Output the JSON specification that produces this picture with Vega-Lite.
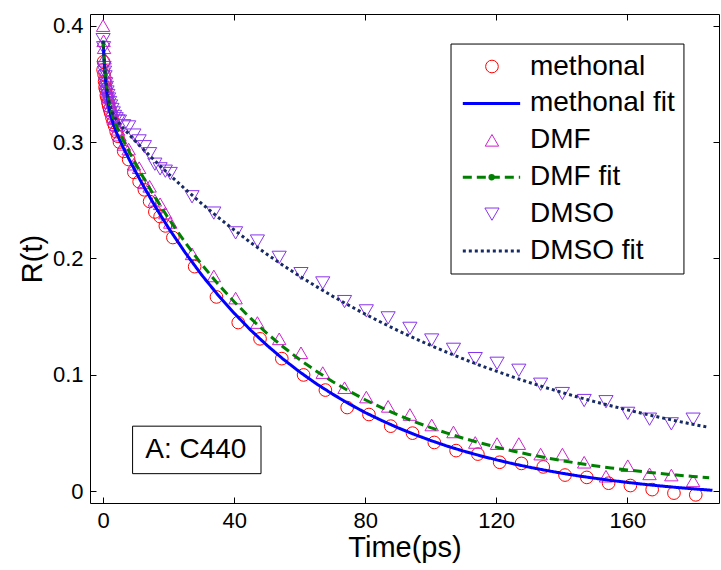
{
 "$schema": "https://vega.github.io/schema/vega-lite/v6.json",
 "width": 629,
 "height": 489,
 "autosize": {"type": "none"},
 "padding": {"left": 90, "top": 14, "right": 2, "bottom": 67},
 "background": "white",
 "config": {
  "view": {"stroke": "black", "strokeWidth": 1},
  "font": "Liberation Sans",
  "axis": {"grid": false, "domain": false, "tickColor": "black", "tickSize": -6, "labelColor": "black", "titleColor": "black", "labelFont": "Liberation Sans", "titleFont": "Liberation Sans", "labelFontSize": 22, "titleFontSize": 29, "titleFontWeight": "normal"}
 },
 "datasets": {
  "obs": [
   {"t":0,"r":0.362,"series":"methonal"},{"t":0.15,"r":0.369,"series":"methonal"},{"t":0.3,"r":0.358,"series":"methonal"},{"t":0.45,"r":0.352,"series":"methonal"},{"t":0.6,"r":0.347,"series":"methonal"},{"t":0.8,"r":0.345,"series":"methonal"},{"t":1.0,"r":0.340,"series":"methonal"},{"t":1.2,"r":0.338,"series":"methonal"},{"t":1.45,"r":0.334,"series":"methonal"},{"t":1.7,"r":0.331,"series":"methonal"},{"t":2.0,"r":0.328,"series":"methonal"},{"t":2.3,"r":0.325,"series":"methonal"},{"t":2.7,"r":0.321,"series":"methonal"},{"t":3.1,"r":0.317,"series":"methonal"},{"t":3.5,"r":0.314,"series":"methonal"},{"t":4.0,"r":0.309,"series":"methonal"},{"t":4.5,"r":0.305,"series":"methonal"},
   {"t":5.0,"r":0.300,"series":"methonal"},{"t":6.3,"r":0.292,"series":"methonal"},{"t":7.8,"r":0.285,"series":"methonal"},{"t":9.4,"r":0.274,"series":"methonal"},{"t":11.0,"r":0.266,"series":"methonal"},{"t":12.6,"r":0.259,"series":"methonal"},{"t":14.2,"r":0.249,"series":"methonal"},{"t":15.8,"r":0.240,"series":"methonal"},{"t":17.4,"r":0.236,"series":"methonal"},{"t":19.0,"r":0.228,"series":"methonal"},
   {"t":21.3,"r":0.218,"series":"methonal"},{"t":27.95,"r":0.193,"series":"methonal"},{"t":34.6,"r":0.167,"series":"methonal"},{"t":41.25,"r":0.145,"series":"methonal"},{"t":47.9,"r":0.131,"series":"methonal"},{"t":54.55,"r":0.114,"series":"methonal"},{"t":61.2,"r":0.100,"series":"methonal"},{"t":67.85,"r":0.087,"series":"methonal"},{"t":74.5,"r":0.072,"series":"methonal"},{"t":81.15,"r":0.066,"series":"methonal"},{"t":87.8,"r":0.056,"series":"methonal"},{"t":94.45,"r":0.050,"series":"methonal"},{"t":101.1,"r":0.042,"series":"methonal"},{"t":107.75,"r":0.035,"series":"methonal"},{"t":114.4,"r":0.032,"series":"methonal"},{"t":121.05,"r":0.025,"series":"methonal"},{"t":127.7,"r":0.024,"series":"methonal"},{"t":134.35,"r":0.021,"series":"methonal"},{"t":141.0,"r":0.014,"series":"methonal"},{"t":147.65,"r":0.012,"series":"methonal"},{"t":154.3,"r":0.007,"series":"methonal"},{"t":160.95,"r":0.005,"series":"methonal"},{"t":167.6,"r":0.0015,"series":"methonal"},{"t":174.25,"r":-0.0015,"series":"methonal"},{"t":180.9,"r":-0.003,"series":"methonal"},
   {"t":0,"r":0.400,"series":"DMF"},{"t":0.15,"r":0.387,"series":"DMF"},{"t":0.3,"r":0.381,"series":"DMF"},{"t":0.45,"r":0.372,"series":"DMF"},{"t":0.6,"r":0.360,"series":"DMF"},{"t":0.8,"r":0.355,"series":"DMF"},{"t":1.0,"r":0.350,"series":"DMF"},{"t":1.2,"r":0.346,"series":"DMF"},{"t":1.45,"r":0.343,"series":"DMF"},{"t":1.7,"r":0.339,"series":"DMF"},{"t":2.0,"r":0.334,"series":"DMF"},{"t":2.3,"r":0.331,"series":"DMF"},{"t":2.7,"r":0.327,"series":"DMF"},{"t":3.1,"r":0.322,"series":"DMF"},{"t":3.5,"r":0.320,"series":"DMF"},{"t":4.0,"r":0.315,"series":"DMF"},{"t":4.5,"r":0.311,"series":"DMF"},
   {"t":5.0,"r":0.306,"series":"DMF"},{"t":6.3,"r":0.298,"series":"DMF"},{"t":7.8,"r":0.294,"series":"DMF"},{"t":9.4,"r":0.281,"series":"DMF"},{"t":11.0,"r":0.278,"series":"DMF"},{"t":12.6,"r":0.265,"series":"DMF"},{"t":14.2,"r":0.262,"series":"DMF"},{"t":15.8,"r":0.250,"series":"DMF"},{"t":17.4,"r":0.247,"series":"DMF"},{"t":19.0,"r":0.239,"series":"DMF"},
   {"t":20.5,"r":0.231,"series":"DMF"},{"t":27.15,"r":0.204,"series":"DMF"},{"t":33.8,"r":0.185,"series":"DMF"},{"t":40.45,"r":0.166,"series":"DMF"},{"t":47.1,"r":0.145,"series":"DMF"},{"t":53.75,"r":0.131,"series":"DMF"},{"t":60.4,"r":0.119,"series":"DMF"},{"t":67.05,"r":0.102,"series":"DMF"},{"t":73.7,"r":0.089,"series":"DMF"},{"t":80.35,"r":0.081,"series":"DMF"},{"t":87.0,"r":0.073,"series":"DMF"},{"t":93.65,"r":0.066,"series":"DMF"},{"t":100.3,"r":0.057,"series":"DMF"},{"t":106.95,"r":0.051,"series":"DMF"},{"t":113.6,"r":0.042,"series":"DMF"},{"t":120.25,"r":0.041,"series":"DMF"},{"t":126.9,"r":0.041,"series":"DMF"},{"t":133.55,"r":0.032,"series":"DMF"},{"t":140.2,"r":0.032,"series":"DMF"},{"t":146.85,"r":0.025,"series":"DMF"},{"t":153.5,"r":0.013,"series":"DMF"},{"t":160.15,"r":0.022,"series":"DMF"},{"t":166.8,"r":0.015,"series":"DMF"},{"t":173.45,"r":0.014,"series":"DMF"},{"t":180.1,"r":0.009,"series":"DMF"},
   {"t":0,"r":0.388,"series":"DMSO"},{"t":0.15,"r":0.381,"series":"DMSO"},{"t":0.3,"r":0.364,"series":"DMSO"},{"t":0.45,"r":0.360,"series":"DMSO"},{"t":0.6,"r":0.356,"series":"DMSO"},{"t":0.8,"r":0.350,"series":"DMSO"},{"t":1.0,"r":0.347,"series":"DMSO"},{"t":1.2,"r":0.343,"series":"DMSO"},{"t":1.45,"r":0.340,"series":"DMSO"},{"t":1.7,"r":0.337,"series":"DMSO"},{"t":2.0,"r":0.334,"series":"DMSO"},{"t":2.3,"r":0.331,"series":"DMSO"},{"t":2.7,"r":0.328,"series":"DMSO"},{"t":3.1,"r":0.325,"series":"DMSO"},{"t":3.5,"r":0.322,"series":"DMSO"},{"t":4.0,"r":0.320,"series":"DMSO"},{"t":4.5,"r":0.318,"series":"DMSO"},
   {"t":5.0,"r":0.318,"series":"DMSO"},{"t":6.3,"r":0.314,"series":"DMSO"},{"t":7.8,"r":0.313,"series":"DMSO"},{"t":9.4,"r":0.306,"series":"DMSO"},{"t":11.0,"r":0.301,"series":"DMSO"},{"t":12.6,"r":0.296,"series":"DMSO"},{"t":14.2,"r":0.290,"series":"DMSO"},{"t":15.8,"r":0.281,"series":"DMSO"},{"t":17.4,"r":0.277,"series":"DMSO"},{"t":19.0,"r":0.275,"series":"DMSO"},
   {"t":20.5,"r":0.273,"series":"DMSO"},{"t":27.15,"r":0.253,"series":"DMSO"},{"t":33.8,"r":0.239,"series":"DMSO"},{"t":40.45,"r":0.222,"series":"DMSO"},{"t":47.1,"r":0.215,"series":"DMSO"},{"t":53.75,"r":0.201,"series":"DMSO"},{"t":60.4,"r":0.187,"series":"DMSO"},{"t":67.05,"r":0.179,"series":"DMSO"},{"t":73.7,"r":0.163,"series":"DMSO"},{"t":80.35,"r":0.155,"series":"DMSO"},{"t":87.0,"r":0.149,"series":"DMSO"},{"t":93.65,"r":0.140,"series":"DMSO"},{"t":100.3,"r":0.130,"series":"DMSO"},{"t":106.95,"r":0.122,"series":"DMSO"},{"t":113.6,"r":0.114,"series":"DMSO"},{"t":120.25,"r":0.110,"series":"DMSO"},{"t":126.9,"r":0.104,"series":"DMSO"},{"t":133.55,"r":0.092,"series":"DMSO"},{"t":140.2,"r":0.084,"series":"DMSO"},{"t":146.85,"r":0.078,"series":"DMSO"},{"t":153.5,"r":0.077,"series":"DMSO"},{"t":160.15,"r":0.067,"series":"DMSO"},{"t":166.8,"r":0.062,"series":"DMSO"},{"t":173.45,"r":0.058,"series":"DMSO"},{"t":180.1,"r":0.062,"series":"DMSO"}
  ],
  "fit": [
   {"t":0,"r":0.387,"series":"methonal fit"},{"t":0.25,"r":0.3732,"series":"methonal fit"},{"t":0.5,"r":0.3622,"series":"methonal fit"},{"t":0.75,"r":0.3533,"series":"methonal fit"},{"t":1,"r":0.3459,"series":"methonal fit"},{"t":1.5,"r":0.3349,"series":"methonal fit"},{"t":2,"r":0.3270,"series":"methonal fit"},{"t":2.5,"r":0.3210,"series":"methonal fit"},{"t":3,"r":0.3162,"series":"methonal fit"},{"t":4,"r":0.3086,"series":"methonal fit"},{"t":5,"r":0.3022,"series":"methonal fit"},{"t":6,"r":0.2961,"series":"methonal fit"},{"t":8,"r":0.2849,"series":"methonal fit"},{"t":10,"r":0.2742,"series":"methonal fit"},{"t":12.5,"r":0.2613,"series":"methonal fit"},{"t":15,"r":0.2491,"series":"methonal fit"},{"t":17.5,"r":0.2373,"series":"methonal fit"},{"t":20,"r":0.2261,"series":"methonal fit"},{"t":25,"r":0.2053,"series":"methonal fit"},{"t":30,"r":0.1862,"series":"methonal fit"},{"t":35,"r":0.1689,"series":"methonal fit"},{"t":40,"r":0.1531,"series":"methonal fit"},{"t":45,"r":0.1386,"series":"methonal fit"},{"t":50,"r":0.1255,"series":"methonal fit"},{"t":55,"r":0.1135,"series":"methonal fit"},{"t":60,"r":0.1026,"series":"methonal fit"},{"t":65,"r":0.0926,"series":"methonal fit"},{"t":70,"r":0.0836,"series":"methonal fit"},{"t":75,"r":0.0753,"series":"methonal fit"},{"t":80,"r":0.0677,"series":"methonal fit"},{"t":85,"r":0.0609,"series":"methonal fit"},{"t":90,"r":0.0546,"series":"methonal fit"},{"t":95,"r":0.0489,"series":"methonal fit"},{"t":100,"r":0.0437,"series":"methonal fit"},{"t":105,"r":0.0389,"series":"methonal fit"},{"t":110,"r":0.0346,"series":"methonal fit"},{"t":115,"r":0.0307,"series":"methonal fit"},{"t":120,"r":0.0271,"series":"methonal fit"},{"t":125,"r":0.0238,"series":"methonal fit"},{"t":130,"r":0.0208,"series":"methonal fit"},{"t":135,"r":0.0181,"series":"methonal fit"},{"t":140,"r":0.0156,"series":"methonal fit"},{"t":145,"r":0.0133,"series":"methonal fit"},{"t":150,"r":0.0113,"series":"methonal fit"},{"t":155,"r":0.0094,"series":"methonal fit"},{"t":160,"r":0.0077,"series":"methonal fit"},{"t":165,"r":0.0061,"series":"methonal fit"},{"t":170,"r":0.0047,"series":"methonal fit"},{"t":175,"r":0.0034,"series":"methonal fit"},{"t":180,"r":0.0022,"series":"methonal fit"},{"t":186,"r":0.0009,"series":"methonal fit"},
   {"t":0,"r":0.387,"series":"DMF fit"},{"t":0.25,"r":0.3744,"series":"DMF fit"},{"t":0.5,"r":0.3643,"series":"DMF fit"},{"t":0.75,"r":0.3560,"series":"DMF fit"},{"t":1,"r":0.3493,"series":"DMF fit"},{"t":1.5,"r":0.3391,"series":"DMF fit"},{"t":2,"r":0.3318,"series":"DMF fit"},{"t":2.5,"r":0.3261,"series":"DMF fit"},{"t":3,"r":0.3216,"series":"DMF fit"},{"t":4,"r":0.3143,"series":"DMF fit"},{"t":5,"r":0.3080,"series":"DMF fit"},{"t":6,"r":0.3023,"series":"DMF fit"},{"t":8,"r":0.2914,"series":"DMF fit"},{"t":10,"r":0.2810,"series":"DMF fit"},{"t":12.5,"r":0.2685,"series":"DMF fit"},{"t":15,"r":0.2566,"series":"DMF fit"},{"t":17.5,"r":0.2452,"series":"DMF fit"},{"t":20,"r":0.2343,"series":"DMF fit"},{"t":25,"r":0.2139,"series":"DMF fit"},{"t":30,"r":0.1953,"series":"DMF fit"},{"t":35,"r":0.1783,"series":"DMF fit"},{"t":40,"r":0.1629,"series":"DMF fit"},{"t":45,"r":0.1487,"series":"DMF fit"},{"t":50,"r":0.1358,"series":"DMF fit"},{"t":55,"r":0.1240,"series":"DMF fit"},{"t":60,"r":0.1132,"series":"DMF fit"},{"t":65,"r":0.1034,"series":"DMF fit"},{"t":70,"r":0.0944,"series":"DMF fit"},{"t":75,"r":0.0862,"series":"DMF fit"},{"t":80,"r":0.0787,"series":"DMF fit"},{"t":85,"r":0.0719,"series":"DMF fit"},{"t":90,"r":0.0656,"series":"DMF fit"},{"t":95,"r":0.0599,"series":"DMF fit"},{"t":100,"r":0.0547,"series":"DMF fit"},{"t":105,"r":0.0500,"series":"DMF fit"},{"t":110,"r":0.0456,"series":"DMF fit"},{"t":115,"r":0.0417,"series":"DMF fit"},{"t":120,"r":0.0380,"series":"DMF fit"},{"t":125,"r":0.0347,"series":"DMF fit"},{"t":130,"r":0.0317,"series":"DMF fit"},{"t":135,"r":0.0290,"series":"DMF fit"},{"t":140,"r":0.0264,"series":"DMF fit"},{"t":145,"r":0.0241,"series":"DMF fit"},{"t":150,"r":0.0220,"series":"DMF fit"},{"t":155,"r":0.0201,"series":"DMF fit"},{"t":160,"r":0.0184,"series":"DMF fit"},{"t":165,"r":0.0168,"series":"DMF fit"},{"t":170,"r":0.0153,"series":"DMF fit"},{"t":175,"r":0.0140,"series":"DMF fit"},{"t":180,"r":0.0128,"series":"DMF fit"},{"t":185,"r":0.0117,"series":"DMF fit"},
   {"t":0,"r":0.387,"series":"DMSO fit"},{"t":0.25,"r":0.3738,"series":"DMSO fit"},{"t":0.5,"r":0.3634,"series":"DMSO fit"},{"t":0.75,"r":0.3551,"series":"DMSO fit"},{"t":1,"r":0.3484,"series":"DMSO fit"},{"t":1.5,"r":0.3387,"series":"DMSO fit"},{"t":2,"r":0.3322,"series":"DMSO fit"},{"t":2.5,"r":0.3277,"series":"DMSO fit"},{"t":3,"r":0.3243,"series":"DMSO fit"},{"t":4,"r":0.3194,"series":"DMSO fit"},{"t":5,"r":0.3157,"series":"DMSO fit"},{"t":6,"r":0.3124,"series":"DMSO fit"},{"t":8,"r":0.3063,"series":"DMSO fit"},{"t":10,"r":0.3004,"series":"DMSO fit"},{"t":12.5,"r":0.2932,"series":"DMSO fit"},{"t":15,"r":0.2861,"series":"DMSO fit"},{"t":17.5,"r":0.2793,"series":"DMSO fit"},{"t":20,"r":0.2726,"series":"DMSO fit"},{"t":25,"r":0.2597,"series":"DMSO fit"},{"t":30,"r":0.2474,"series":"DMSO fit"},{"t":35,"r":0.2356,"series":"DMSO fit"},{"t":40,"r":0.2245,"series":"DMSO fit"},{"t":45,"r":0.2138,"series":"DMSO fit"},{"t":50,"r":0.2037,"series":"DMSO fit"},{"t":55,"r":0.1940,"series":"DMSO fit"},{"t":60,"r":0.1848,"series":"DMSO fit"},{"t":65,"r":0.1761,"series":"DMSO fit"},{"t":70,"r":0.1677,"series":"DMSO fit"},{"t":75,"r":0.1598,"series":"DMSO fit"},{"t":80,"r":0.1522,"series":"DMSO fit"},{"t":85,"r":0.1450,"series":"DMSO fit"},{"t":90,"r":0.1381,"series":"DMSO fit"},{"t":95,"r":0.1316,"series":"DMSO fit"},{"t":100,"r":0.1253,"series":"DMSO fit"},{"t":105,"r":0.1194,"series":"DMSO fit"},{"t":110,"r":0.1137,"series":"DMSO fit"},{"t":115,"r":0.1083,"series":"DMSO fit"},{"t":120,"r":0.1032,"series":"DMSO fit"},{"t":125,"r":0.0983,"series":"DMSO fit"},{"t":130,"r":0.0936,"series":"DMSO fit"},{"t":135,"r":0.0892,"series":"DMSO fit"},{"t":140,"r":0.0850,"series":"DMSO fit"},{"t":145,"r":0.0809,"series":"DMSO fit"},{"t":150,"r":0.0771,"series":"DMSO fit"},{"t":155,"r":0.0735,"series":"DMSO fit"},{"t":160,"r":0.0700,"series":"DMSO fit"},{"t":165,"r":0.0667,"series":"DMSO fit"},{"t":170,"r":0.0635,"series":"DMSO fit"},{"t":175,"r":0.0605,"series":"DMSO fit"},{"t":180,"r":0.0576,"series":"DMSO fit"},{"t":185,"r":0.0549,"series":"DMSO fit"}
  ],
  "boxes": [{"x1": 9.0, "x2": 48.2, "y1": 0.0152, "y2": 0.056}, {"x1": 106.2, "x2": 177.3, "y1": 0.1867, "y2": 0.3842}],
  "note": [{"xc": 28.3, "yc": 0.0356, "label": "A: C440"}],
  "legpts": [{"series":"methonal","lx":118.7,"ly":0.3649},{"series":"DMF","lx":118.7,"ly":0.3015},{"series":"DMSO","lx":118.7,"ly":0.2381}],
  "leglines": [{"series":"methonal fit","x1":109.8,"x2":127.3,"ly":0.3332},{"series":"DMF fit","x1":109.8,"x2":127.3,"ly":0.2698},{"series":"DMSO fit","x1":109.8,"x2":127.3,"ly":0.2064}],
  "legdot": [{"series":"DMF fit","lx":118.6,"ly":0.2698}],
  "legtext": [{"tx":130.3,"ly":0.3649,"label":"methonal"},{"tx":130.3,"ly":0.3332,"label":"methonal fit"},{"tx":130.3,"ly":0.3015,"label":"DMF"},{"tx":130.3,"ly":0.2698,"label":"DMF fit"},{"tx":130.3,"ly":0.2381,"label":"DMSO"},{"tx":130.3,"ly":0.2064,"label":"DMSO fit"}]
 },
 "layer": [
  {
   "data": {"name": "obs"},
   "mark": {"type": "point", "filled": false, "strokeWidth": 1, "opacity": 1},
   "encoding": {
    "x": {"field": "t", "type": "quantitative", "scale": {"domain": [-4, 188], "nice": false, "zero": false}, "axis": {"orient": "bottom", "values": [0, 40, 80, 120, 160], "title": "Time(ps)", "labelPadding": 13, "titlePadding": 2}},
    "y": {"field": "r", "type": "quantitative", "scale": {"domain": [-0.01, 0.41], "nice": false, "zero": false}, "axis": {"orient": "left", "values": [0, 0.1, 0.2, 0.3, 0.4], "format": ".1~f", "title": "R(t)", "labelPadding": 13, "titlePadding": 5}},
    "color": {"field": "series", "type": "nominal", "scale": {"domain": ["methonal", "methonal fit", "DMF", "DMF fit", "DMSO", "DMSO fit"], "range": ["#ff0000", "#0000ff", "#cc22cc", "#008000", "#8833ee", "#162a66"]}, "legend": null},
    "shape": {"field": "series", "type": "nominal", "scale": {"domain": ["methonal", "DMF", "DMSO"], "range": ["circle", "triangle-up", "triangle-down"]}, "legend": null},
    "size": {"field": "series", "type": "nominal", "scale": {"domain": ["methonal", "DMF", "DMSO"], "range": [160, 200, 200]}, "legend": null}
   }
  },
  {
   "data": {"name": "fit"},
   "mark": {"type": "line", "strokeWidth": 3},
   "encoding": {
    "x": {"field": "t", "type": "quantitative", "axis": {"orient": "top", "values": [0, 40, 80, 120, 160], "labels": false, "title": null}},
    "y": {"field": "r", "type": "quantitative", "axis": {"orient": "right", "values": [0, 0.1, 0.2, 0.3, 0.4], "labels": false, "title": null}},
    "color": {"field": "series", "type": "nominal", "legend": null},
    "strokeDash": {"field": "series", "type": "nominal", "scale": {"domain": ["methonal fit", "DMF fit", "DMSO fit"], "range": [[1, 0], [9, 5], [3, 3]]}, "legend": null}
   }
  },
  {
   "data": {"name": "boxes"},
   "mark": {"type": "rect", "fill": "white", "stroke": "black", "strokeWidth": 1},
   "encoding": {
    "x": {"field": "x1", "type": "quantitative", "axis": null},
    "x2": {"field": "x2"},
    "y": {"field": "y1", "type": "quantitative", "axis": null},
    "y2": {"field": "y2"}
   }
  },
  {
   "data": {"name": "note"},
   "mark": {"type": "text", "fontSize": 28, "font": "Liberation Sans", "align": "center", "baseline": "middle", "color": "black"},
   "encoding": {
    "x": {"field": "xc", "type": "quantitative", "axis": null},
    "y": {"field": "yc", "type": "quantitative", "axis": null},
    "text": {"field": "label"}
   }
  },
  {
   "data": {"name": "legpts"},
   "mark": {"type": "point", "filled": false, "strokeWidth": 1, "opacity": 1},
   "encoding": {
    "x": {"field": "lx", "type": "quantitative", "axis": null},
    "y": {"field": "ly", "type": "quantitative", "axis": null},
    "color": {"field": "series", "type": "nominal", "legend": null},
    "shape": {"field": "series", "type": "nominal", "legend": null},
    "size": {"field": "series", "type": "nominal", "legend": null}
   }
  },
  {
   "data": {"name": "leglines"},
   "mark": {"type": "rule", "strokeWidth": 3},
   "encoding": {
    "x": {"field": "x1", "type": "quantitative", "axis": null},
    "x2": {"field": "x2"},
    "y": {"field": "ly", "type": "quantitative", "axis": null},
    "color": {"field": "series", "type": "nominal", "legend": null},
    "strokeDash": {"field": "series", "type": "nominal", "legend": null}
   }
  },
  {
   "data": {"name": "legdot"},
   "mark": {"type": "point", "filled": true, "shape": "circle", "size": 40, "opacity": 1},
   "encoding": {
    "x": {"field": "lx", "type": "quantitative", "axis": null},
    "y": {"field": "ly", "type": "quantitative", "axis": null},
    "color": {"field": "series", "type": "nominal", "legend": null}
   }
  },
  {
   "data": {"name": "legtext"},
   "mark": {"type": "text", "fontSize": 28, "font": "Liberation Sans", "align": "left", "baseline": "middle", "color": "black"},
   "encoding": {
    "x": {"field": "tx", "type": "quantitative", "axis": null},
    "y": {"field": "ly", "type": "quantitative", "axis": null},
    "text": {"field": "label"}
   }
  }
 ],
 "resolve": {"axis": {"x": "independent", "y": "independent"}}
}
